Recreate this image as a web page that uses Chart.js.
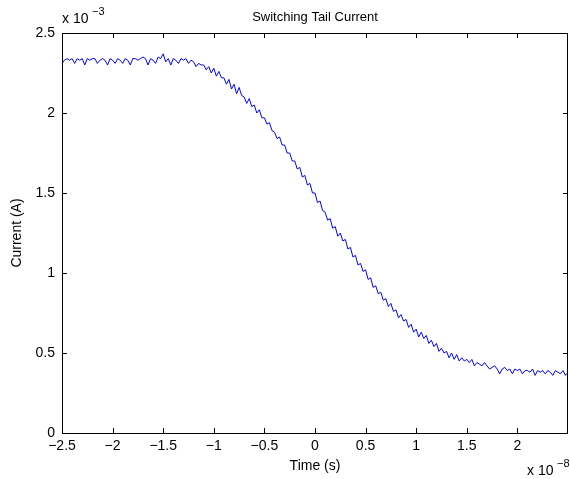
<!DOCTYPE html>
<html>
<head>
<meta charset="utf-8">
<script src="https://cdn.jsdelivr.net/npm/chart.js@4"></script>
<style>
  html, body { margin: 0; padding: 0; background: #fff; }
  #wrap { width: 570px; height: 479px; }
</style>
</head>
<body>
<div id="wrap"><canvas id="tail" width="570" height="479"></canvas></div>
<script>
// time in units of 1e-8 s, current in units of 1e-3 A
const time = [
  -2.5,-2.475,-2.45,-2.425,-2.4,-2.375,-2.35,-2.325,
  -2.3,-2.275,-2.25,-2.225,-2.2,-2.175,-2.15,-2.125,
  -2.1,-2.075,-2.05,-2.025,-2,-1.975,-1.95,-1.925,
  -1.9,-1.875,-1.85,-1.825,-1.8,-1.775,-1.75,-1.725,
  -1.7,-1.675,-1.65,-1.625,-1.6,-1.575,-1.55,-1.525,
  -1.5,-1.475,-1.45,-1.425,-1.4,-1.375,-1.35,-1.325,
  -1.3,-1.275,-1.25,-1.225,-1.2,-1.175,-1.15,-1.125,
  -1.1,-1.075,-1.05,-1.025,-1,-0.975,-0.95,-0.925,
  -0.9,-0.875,-0.85,-0.825,-0.8,-0.775,-0.75,-0.725,
  -0.7,-0.675,-0.65,-0.625,-0.6,-0.575,-0.55,-0.525,
  -0.5,-0.475,-0.45,-0.425,-0.4,-0.375,-0.35,-0.325,
  -0.3,-0.275,-0.25,-0.225,-0.2,-0.175,-0.15,-0.125,
  -0.1,-0.075,-0.05,-0.025,0,0.025,0.05,0.075,
  0.1,0.125,0.15,0.175,0.2,0.225,0.25,0.275,
  0.3,0.325,0.35,0.375,0.4,0.425,0.45,0.475,
  0.5,0.525,0.55,0.575,0.6,0.625,0.65,0.675,
  0.7,0.725,0.75,0.775,0.8,0.825,0.85,0.875,
  0.9,0.925,0.95,0.975,1,1.025,1.05,1.075,
  1.1,1.125,1.15,1.175,1.2,1.225,1.25,1.275,
  1.3,1.325,1.35,1.375,1.4,1.425,1.45,1.475,
  1.5,1.525,1.55,1.575,1.6,1.625,1.65,1.675,
  1.7,1.725,1.75,1.775,1.8,1.825,1.85,1.875,
  1.9,1.925,1.95,1.975,2,2.025,2.05,2.075,
  2.1,2.125,2.15,2.175,2.2,2.225,2.25,2.275,
  2.3,2.325,2.35,2.375,2.4,2.425,2.45,2.475,
  2.5
];
const current = [
  2.31,2.33,2.34,2.33,2.34,2.31,2.34,2.33,
  2.34,2.30,2.34,2.33,2.34,2.34,2.31,2.33,
  2.34,2.33,2.30,2.34,2.33,2.31,2.34,2.33,
  2.31,2.34,2.33,2.30,2.34,2.34,2.33,2.34,
  2.35,2.34,2.30,2.34,2.33,2.31,2.35,2.34,
  2.37,2.32,2.34,2.30,2.34,2.33,2.31,2.34,
  2.33,2.34,2.31,2.33,2.32,2.29,2.31,2.30,
  2.30,2.27,2.29,2.25,2.28,2.23,2.26,2.22,
  2.22,2.18,2.21,2.15,2.18,2.12,2.16,2.11,
  2.10,2.06,2.09,2.04,2.05,2.00,2.02,1.97,
  1.97,1.93,1.94,1.89,1.88,1.84,1.85,1.80,
  1.80,1.75,1.75,1.70,1.70,1.65,1.66,1.60,
  1.61,1.55,1.56,1.50,1.50,1.44,1.45,1.39,
  1.38,1.33,1.34,1.28,1.29,1.23,1.25,1.20,
  1.21,1.15,1.16,1.10,1.11,1.05,1.06,1.01,
  1.02,0.96,0.97,0.91,0.92,0.87,0.88,0.83,
  0.84,0.79,0.81,0.76,0.77,0.72,0.74,0.70,
  0.71,0.66,0.68,0.63,0.65,0.60,0.63,0.59,
  0.61,0.56,0.58,0.54,0.56,0.51,0.53,0.50,
  0.51,0.47,0.50,0.46,0.49,0.45,0.47,0.45,
  0.46,0.44,0.46,0.42,0.44,0.43,0.42,0.44,
  0.42,0.40,0.41,0.42,0.40,0.37,0.40,0.41,
  0.39,0.40,0.37,0.40,0.39,0.40,0.37,0.39,
  0.39,0.38,0.40,0.36,0.39,0.38,0.39,0.37,
  0.39,0.38,0.36,0.39,0.38,0.37,0.39,0.36,
  0.38
];
const yTicks = [0, 0.5, 1, 1.5, 2, 2.5];
const xTicks = [-2.5, -2, -1.5, -1, -0.5, 0, 0.5, 1, 1.5, 2];

const FONT = 'Liberation Sans, Arial, Helvetica, sans-serif';
const fmt = v => (v < 0 ? '\u2212' + String(-v) : String(v));

const matlabFrame = {
  id: 'matlabFrame',
  afterDraw(chart) {
    const c = chart.ctx, a = chart.chartArea;
    const xs = chart.scales.x, ys = chart.scales.y;
    c.save();
    c.strokeStyle = '#000';
    c.lineWidth = 1;
    c.beginPath();
    c.rect(Math.round(a.left) + 0.5, Math.round(a.top) + 0.5,
           Math.round(a.right - a.left) - 1, Math.round(a.bottom - a.top));
    c.stroke();
    // inward ticks on all four sides
    c.beginPath();
    xs.ticks.forEach(t => {
      const px = Math.round(xs.getPixelForValue(t.value)) + 0.5;
      c.moveTo(px, a.bottom); c.lineTo(px, a.bottom - 5);
      c.moveTo(px, a.top); c.lineTo(px, a.top + 5);
    });
    ys.ticks.forEach(t => {
      const py = Math.round(ys.getPixelForValue(t.value)) + 0.5;
      c.moveTo(a.left, py); c.lineTo(a.left + 5, py);
      c.moveTo(a.right, py); c.lineTo(a.right - 5, py);
    });
    c.stroke();

    c.fillStyle = '#000';
    c.textBaseline = 'alphabetic';
    c.font = '13px ' + FONT;
    c.textAlign = 'center';
    c.fillText('Switching Tail Current', (a.left + a.right) / 2, 21);
    // exponent labels
    c.textAlign = 'left';
    c.font = '14px ' + FONT;
    c.fillText('x 10', a.left, 23);
    c.font = '11px ' + FONT;
    c.fillText('\u22123', a.left + 30, 15);
    c.font = '14px ' + FONT;
    c.fillText('x 10', 527, 475);
    c.font = '11px ' + FONT;
    c.fillText('\u22128', 557, 467);
    c.restore();
  }
};

new Chart(document.getElementById('tail'), {
  type: 'line',
  data: {
    datasets: [{
      data: time.map((t, i) => ({ x: t, y: current[i] })),
      borderColor: '#0000ff',
      borderWidth: 1,
      pointRadius: 0,
      tension: 0,
      fill: false
    }]
  },
  options: {
    responsive: false,
    animation: false,
    events: [],
    layout: { padding: { top: 33, right: 2, left: 0, bottom: 0 } },
    plugins: { legend: { display: false }, tooltip: { enabled: false }, title: { display: false } },
    scales: {
      x: {
        type: 'linear',
        min: -2.5,
        max: 2.5,
        afterBuildTicks: s => { s.ticks = xTicks.map(v => ({ value: v })); },
        afterFit: s => { s.height = 46; },
        grid: { display: false, drawTicks: false },
        border: { display: false },
        ticks: {
          padding: 5,
          color: '#000',
          font: { family: FONT, size: 14 },
          maxRotation: 0,
          autoSkip: false,
          callback: v => fmt(v)
        },
        title: {
          display: true,
          text: 'Time (s)',
          color: '#000',
          font: { family: FONT, size: 14 },
          padding: { top: 0, bottom: 4 }
        }
      },
      y: {
        min: 0,
        max: 2.5,
        afterBuildTicks: s => { s.ticks = yTicks.map(v => ({ value: v })); },
        afterFit: s => { s.width = 62; },
        grid: { display: false, drawTicks: false },
        border: { display: false },
        ticks: {
          padding: 7,
          color: '#000',
          font: { family: FONT, size: 14 },
          autoSkip: false,
          callback: v => fmt(v)
        },
        title: {
          display: true,
          text: 'Current (A)',
          color: '#000',
          font: { family: FONT, size: 14 },
          padding: { top: 9, bottom: 0 }
        }
      }
    }
  },
  plugins: [matlabFrame]
});
</script>
</body>
</html>
